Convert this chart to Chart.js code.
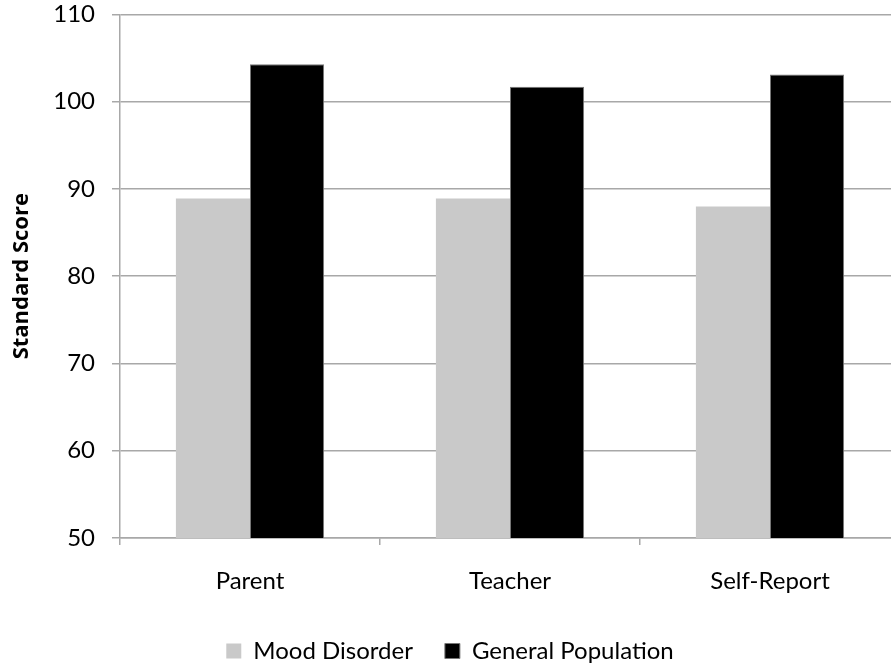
<!DOCTYPE html>
<html>
<head>
<meta charset="utf-8">
<script src="https://cdn.jsdelivr.net/npm/chart.js@4"></script>
<style>
  html, body { margin: 0; padding: 0; background: #fff; overflow: hidden; }
  /* canvas is a bit bigger than the window: the plot runs past the right edge in the original */
  #wrap { width: 900px; height: 690px; margin-top: -17px; }
</style>
</head>
<body>
<div id="wrap"><canvas id="scores" width="900" height="690"></canvas></div>
<script>
// values
var categories = ["Parent", "Teacher", "Self-Report"];
var moodDisorder = [88.9, 88.9, 88.0];
var generalPopulation = [104.3, 101.7, 103.1];
var yTicks = [50, 60, 70, 80, 90, 100, 110];

var gridGray = '#a8a8a8';
var font = "Lato, 'Open Sans', sans-serif";

var ctx = document.getElementById("scores");
var myChart = new Chart(ctx, {
    type: 'bar',
    data: {
        labels: categories,
        datasets: [{
            label: 'Mood Disorder',
            data: moodDisorder,
            backgroundColor: '#c9c9c9',
            borderWidth: 0
        }, {
            label: 'General Population',
            data: generalPopulation,
            backgroundColor: '#000000',
            borderColor: '#777777',
            borderWidth: 1
        }]
    },
    options: {
        responsive: false,
        animation: false,
        layout: { padding: 0 },
        datasets: {
            bar: { categoryPercentage: 0.57, barPercentage: 1.0 }
        },
        plugins: {
            tooltip: { enabled: false },
            legend: {
                position: 'bottom',
                labels: {
                    font: { family: font, size: 24 },
                    color: '#000',
                    boxWidth: 15,
                    boxHeight: 15,
                    padding: 32
                }
            }
        },
        scales: {
            x: {
                grid: {
                    offset: true,
                    drawOnChartArea: false,
                    tickLength: 7,
                    color: gridGray,
                    lineWidth: 1.5
                },
                border: { color: gridGray, width: 1.5 },
                ticks: {
                    font: { family: font, size: 24 },
                    color: '#000',
                    padding: 22
                },
                afterFit: function (scale) { scale.height = 69; }
            },
            y: {
                min: 50,
                max: 110,
                afterBuildTicks: function (scale) {
                    scale.ticks = yTicks.map(function (v) { return { value: v }; });
                },
                grid: {
                    color: gridGray,
                    lineWidth: 1.5,
                    tickLength: 8
                },
                border: { color: gridGray, width: 1.5 },
                ticks: {
                    font: { family: font, size: 24 },
                    color: '#000',
                    padding: 17
                },
                title: {
                    display: true,
                    text: 'Standard Score',
                    font: { family: "'Open Sans', sans-serif", size: 22, weight: 'bold' },
                    color: '#000',
                    padding: { top: 9, bottom: 0 }
                },
                afterFit: function (scale) { scale.width = 120; }
            }
        }
    }
});
</script>
</body>
</html>
